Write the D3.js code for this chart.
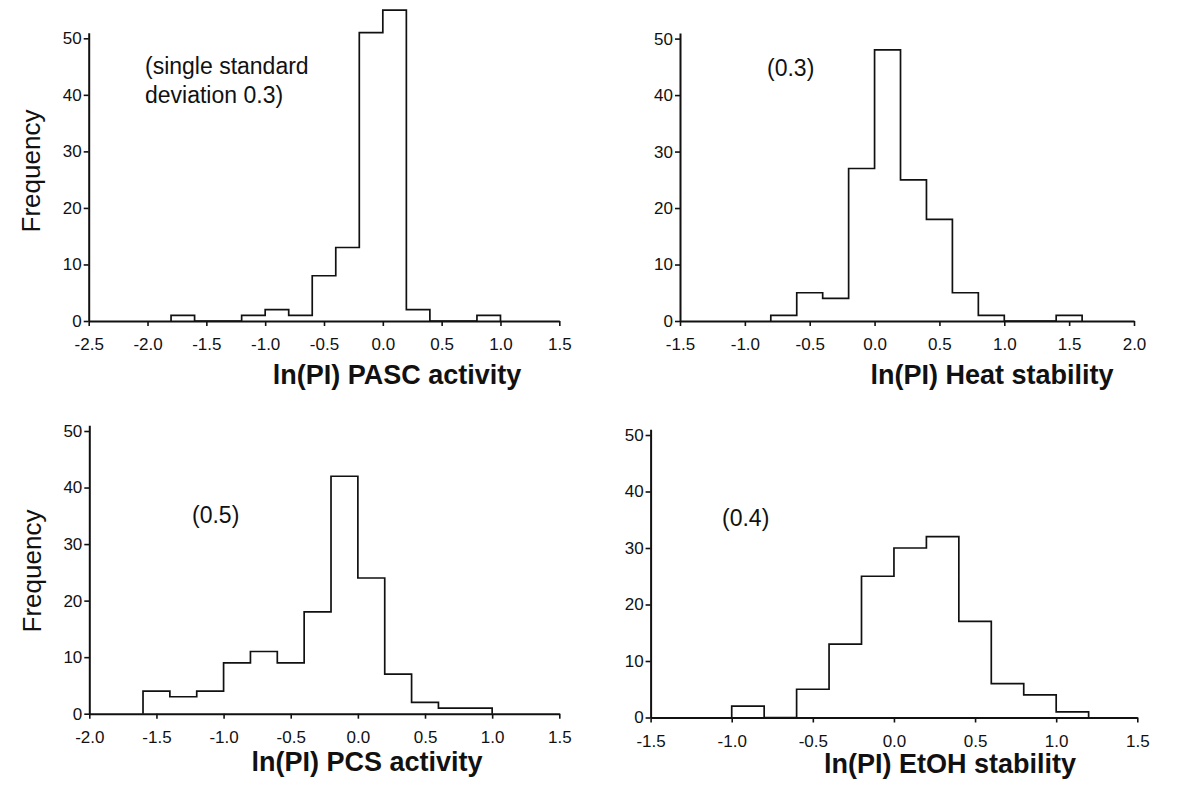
<!DOCTYPE html>
<html>
<head>
<meta charset="utf-8">
<script src="https://cdn.jsdelivr.net/npm/d3@7"></script>
<style>
  html, body { margin: 0; padding: 0; background: #fff; }
  svg { display: block; font-family: Arial, "Liberation Sans", sans-serif; }
  .tick text { font-size: 17px; font-family: Arial, "Liberation Sans", sans-serif; fill: #111; }
</style>
</head>
<body>
<svg id="chart" width="1200" height="785"></svg>
<script>
// ---- data ----
const yTicks = [0, 10, 20, 30, 40, 50];

const pascEdges  = [-1.8, -1.6, -1.4, -1.2, -1.0, -0.8, -0.6, -0.4, -0.2, 0.0, 0.2, 0.4, 0.6, 0.8, 1.0];
const pascCounts = [1, 0, 0, 1, 2, 1, 8, 13, 51, 55, 2, 0, 0, 1];
const pascTicks  = [-2.5, -2.0, -1.5, -1.0, -0.5, 0.0, 0.5, 1.0, 1.5];

const heatEdges  = [-0.8, -0.6, -0.4, -0.2, 0.0, 0.2, 0.4, 0.6, 0.8, 1.0, 1.2, 1.4, 1.6];
const heatCounts = [1, 5, 4, 27, 48, 25, 18, 5, 1, 0, 0, 1];
const heatTicks  = [-1.5, -1.0, -0.5, 0.0, 0.5, 1.0, 1.5, 2.0];

const pcsEdges   = [-1.6, -1.4, -1.2, -1.0, -0.8, -0.6, -0.4, -0.2, 0.0, 0.2, 0.4, 0.6, 0.8, 1.0];
const pcsCounts  = [4, 3, 4, 9, 11, 9, 18, 42, 24, 7, 2, 1, 1];
const pcsTicks   = [-2.0, -1.5, -1.0, -0.5, 0.0, 0.5, 1.0, 1.5];

const etohEdges  = [-1.0, -0.8, -0.6, -0.4, -0.2, 0.0, 0.2, 0.4, 0.6, 0.8, 1.0, 1.2];
const etohCounts = [2, 0, 5, 13, 25, 30, 32, 17, 6, 4, 1];
const etohTicks  = [-1.5, -1.0, -0.5, 0.0, 0.5, 1.0, 1.5];

const titles = ["ln(PI) PASC activity", "ln(PI) Heat stability", "ln(PI) PCS activity", "ln(PI) EtOH stability"];
const notes  = [["(single standard", "deviation 0.3)"], ["(0.3)"], ["(0.5)"], ["(0.4)"]];
const yTitle = "Frequency";

// ---- layout ----
const panels = [
  { edges: pascEdges, counts: pascCounts, ticks: pascTicks, x0: 88.7, x1: 559.3, base: 321, top50: 38.3,
    title: titles[0], tx: 397, ty: 384, notes: notes[0], nx: 145, ny: 74, freq: [40, 171] },
  { edges: heatEdges, counts: heatCounts, ticks: heatTicks, x0: 680, x1: 1134, base: 321, top50: 38.6,
    title: titles[1], tx: 992, ty: 384, notes: notes[1], nx: 767, ny: 76, freq: null },
  { edges: pcsEdges, counts: pcsCounts, ticks: pcsTicks, x0: 89.3, x1: 559.3, base: 713.7, top50: 431,
    title: titles[2], tx: 367, ty: 771, notes: notes[2], nx: 192, ny: 523, freq: [41, 571] },
  { edges: etohEdges, counts: etohCounts, ticks: etohTicks, x0: 650.6, x1: 1137.3, base: 717.5, top50: 435,
    title: titles[3], tx: 950, ty: 773, notes: notes[3], nx: 722, ny: 526, freq: null }
];

const svg = d3.select("#chart");
const fmt = v => d3.format(".1f")(v).replace("\u2212", "-");
const ink = "#111";

panels.forEach(p => {
  const g = svg.append("g");
  const x = d3.scaleLinear().domain([p.ticks[0], p.ticks[p.ticks.length - 1]]).range([p.x0, p.x1]);
  const y = d3.scaleLinear().domain([0, 50]).range([p.base, p.top50]);

  // histogram as a step outline
  const pts = [[p.edges[0], 0]];
  p.counts.forEach((c, i) => pts.push([p.edges[i], c]));
  pts.push([p.edges[p.edges.length - 1], 0]);
  const line = d3.line().x(d => x(d[0])).y(d => y(d[1])).curve(d3.curveStepAfter);
  g.append("path").attr("d", line(pts))
    .attr("fill", "none").attr("stroke", ink).attr("stroke-width", 1.7)
    .attr("stroke-linejoin", "miter");

  // x axis
  const xa = g.append("g").attr("transform", `translate(0,${p.base})`)
    .call(d3.axisBottom(x).tickValues(p.ticks).tickFormat(fmt).tickSize(5).tickSizeOuter(0).tickPadding(12));
  xa.select(".domain").attr("stroke", ink).attr("stroke-width", 2);
  xa.selectAll(".tick line").attr("stroke", ink).attr("stroke-width", 1.6);
  xa.selectAll(".tick text").style("font-size", "17px").attr("fill", ink);

  // y axis
  const yAxisScale = d3.scaleLinear().domain([0, 51]).range([p.base, y(51)]);
  const ya = g.append("g").attr("transform", `translate(${p.x0},0)`)
    .call(d3.axisLeft(yAxisScale).tickValues(yTicks).tickFormat(d3.format("d")).tickSize(5).tickSizeOuter(0).tickPadding(2));
  ya.select(".domain").attr("stroke", ink).attr("stroke-width", 2);
  ya.selectAll(".tick line").attr("stroke", ink).attr("stroke-width", 1.6);
  ya.selectAll(".tick text").style("font-size", "17px").attr("fill", ink);

  // x title
  g.append("text").attr("x", p.tx).attr("y", p.ty).attr("text-anchor", "middle")
    .attr("font-size", 27).attr("font-weight", "bold").attr("fill", ink).text(p.title);

  // annotation
  p.notes.forEach((t, i) => {
    g.append("text").attr("x", p.nx).attr("y", p.ny + i * 29)
      .attr("font-size", 23).attr("fill", ink).text(t);
  });

  // y title
  if (p.freq) {
    g.append("text").attr("transform", `translate(${p.freq[0]},${p.freq[1]}) rotate(-90)`)
      .attr("text-anchor", "middle").attr("font-size", 26).attr("fill", ink).text(yTitle);
  }
});
</script>
</body>
</html>
